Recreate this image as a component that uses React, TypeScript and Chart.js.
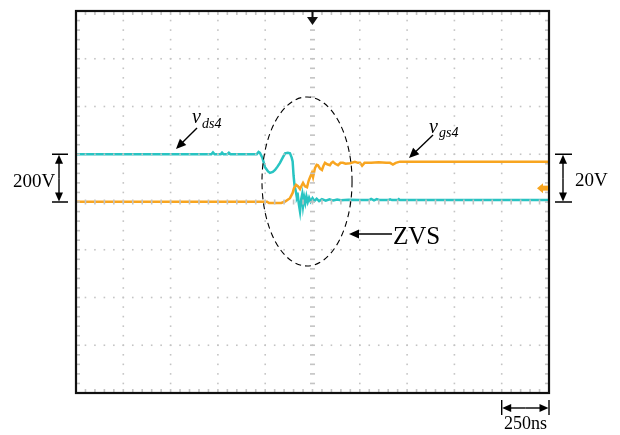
import { useEffect, useRef } from "react";
import { Chart, registerables } from "chart.js";

Chart.register(...registerables);

// time in ns (250 ns/div, 10 div), values in screen divisions (8 div, centre = 0)
const vdsTime = [0, 715, 724, 733, 765, 772, 780, 800, 808, 816, 955, 965, 972, 985, 999, 1015, 1025, 1040, 1052, 1065, 1078, 1094, 1105, 1120, 1131, 1140, 1145, 1150, 1155, 1163, 1168, 1173, 1178, 1184, 1190, 1195, 1200, 1206, 1212, 1218, 1225, 1232, 1240, 1250, 1260, 1272, 1285, 1300, 1320, 1340, 1360, 1380, 1400, 1440, 1500, 1550, 1560, 1575, 1590, 1605, 1650, 1660, 1670, 1700, 1706, 1712, 2500];
const vdsValue = [1.0, 1.0, 1.04, 1.0, 1.0, 1.035, 1.0, 1.0, 1.03, 1.0, 1.0, 1.05, 1.03, 0.93, 0.73, 0.64, 0.61, 0.63, 0.67, 0.74, 0.82, 0.94, 1.02, 1.03, 1.02, 0.93, 0.85, 0.55, 0.35, 0.2, 0.08, 0.12, -0.05, -0.2, 0.05, 0.15, -0.08, 0.1, -0.02, 0.12, 0.0, 0.09, 0.01, 0.08, 0.02, 0.07, 0.02, 0.06, 0.03, 0.055, 0.03, 0.05, 0.035, 0.045, 0.04, 0.04, 0.065, 0.035, 0.06, 0.04, 0.04, 0.055, 0.04, 0.04, 0.06, 0.04, 0.04];

const vgsTime = [0, 1010, 1020, 1085, 1105, 1131, 1145, 1152, 1163, 1173, 1184, 1192, 1200, 1210, 1221, 1230, 1237, 1247, 1253, 1263, 1272, 1279, 1290, 1300, 1308, 1316, 1328, 1342, 1350, 1358, 1370, 1385, 1398, 1411, 1425, 1448, 1474, 1490, 1501, 1512, 1525, 1560, 1600, 1640, 1660, 1675, 1690, 1712, 2500];
const vgsValue = [0.005, 0.005, -0.02, -0.02, 0.01, 0.08, 0.19, 0.29, 0.36, 0.33, 0.27, 0.34, 0.40, 0.33, 0.31, 0.45, 0.52, 0.61, 0.52, 0.71, 0.78, 0.77, 0.70, 0.67, 0.76, 0.82, 0.79, 0.77, 0.82, 0.84, 0.80, 0.77, 0.82, 0.82, 0.80, 0.81, 0.84, 0.82, 0.82, 0.76, 0.82, 0.82, 0.83, 0.82, 0.82, 0.785, 0.82, 0.845, 0.845];

const X_MIN = 0;
const X_MAX = 2500;
const Y_MIN = -4;
const Y_MAX = 4;
const X_DIVS = 10;
const Y_DIVS = 8;
const SUB = 5;

const labelVds = ["v", "ds4"];
const labelVgs = ["v", "gs4"];
const labelZVS = "ZVS";
const labelV200 = "200V";
const labelV20 = "20V";
const labelT = "250ns";

const CYAN = "rgb(40,196,194)";
const ORANGE = "rgb(248,165,32)";
const SERIF = '"Liberation Serif", "DejaVu Serif", serif';

function arrowTo(ctx: CanvasRenderingContext2D, x1: number, y1: number, x2: number, y2: number, head = 9, w = 4) {
  const a = Math.atan2(y2 - y1, x2 - x1);
  const c = Math.cos(a);
  const s = Math.sin(a);
  ctx.beginPath();
  ctx.moveTo(x1, y1);
  ctx.lineTo(x2 - c * head * 0.8, y2 - s * head * 0.8);
  ctx.stroke();
  ctx.beginPath();
  ctx.moveTo(x2, y2);
  ctx.lineTo(x2 - head * c + w * s, y2 - head * s - w * c);
  ctx.lineTo(x2 - head * c - w * s, y2 - head * s + w * c);
  ctx.closePath();
  ctx.fill();
}

const scopePlugin = {
  id: "scope",
  afterDatasetsDraw(chart: any) {
    const { ctx, chartArea: a, scales } = chart;
    const x = scales.x;
    const y = scales.y;
    const xs = (X_MAX - X_MIN) / X_DIVS;
    const ys = (Y_MAX - Y_MIN) / Y_DIVS;
    ctx.save();
    ctx.fillStyle = "rgb(196,196,196)";
    // vertical grid lines
    for (let i = 1; i < X_DIVS; i++) {
      const px = x.getPixelForValue(X_MIN + i * xs);
      const centre = i === X_DIVS / 2;
      for (let j = 1; j < Y_DIVS * SUB; j++) {
        const py = y.getPixelForValue(Y_MIN + (j * ys) / SUB);
        if (centre) ctx.fillRect(px - 2.5, py - 0.8, 5, 1.6);
        else ctx.fillRect(px - 0.8, py - 0.8, 1.6, 1.6);
      }
    }
    // horizontal grid lines
    for (let i = 1; i < Y_DIVS; i++) {
      const py = y.getPixelForValue(Y_MIN + i * ys);
      const centre = i === Y_DIVS / 2;
      for (let j = 1; j < X_DIVS * SUB; j++) {
        const px = x.getPixelForValue(X_MIN + (j * xs) / SUB);
        if (centre) ctx.fillRect(px - 0.8, py - 2.5, 1.6, 5);
        else ctx.fillRect(px - 0.8, py - 0.8, 1.6, 1.6);
      }
    }
    // border ticks
    for (let j = 1; j < X_DIVS * SUB; j++) {
      const px = x.getPixelForValue(X_MIN + (j * xs) / SUB);
      ctx.fillRect(px - 0.8, a.top + 1, 1.6, 3);
      ctx.fillRect(px - 0.8, a.bottom - 4, 1.6, 3);
    }
    for (let j = 1; j < Y_DIVS * SUB; j++) {
      const py = y.getPixelForValue(Y_MIN + (j * ys) / SUB);
      ctx.fillRect(a.left + 1, py - 0.8, 3, 1.6);
      ctx.fillRect(a.right - 4, py - 0.8, 3, 1.6);
    }
    // frame
    ctx.strokeStyle = "#111";
    ctx.lineWidth = 2.2;
    ctx.strokeRect(a.left, a.top, a.right - a.left, a.bottom - a.top);

    // trigger marker
    const tx = x.getPixelForValue((X_MIN + X_MAX) / 2);
    ctx.fillStyle = "#111";
    ctx.fillRect(tx - 1, a.top, 2, 7);
    ctx.beginPath();
    ctx.moveTo(tx - 5.5, a.top + 6);
    ctx.lineTo(tx + 5.5, a.top + 6);
    ctx.lineTo(tx, a.top + 14);
    ctx.closePath();
    ctx.fill();

    // vgs ground marker (right edge)
    const gy = y.getPixelForValue(0.29);
    ctx.fillStyle = ORANGE;
    ctx.beginPath();
    ctx.moveTo(a.right - 12, gy);
    ctx.lineTo(a.right - 6, gy - 5);
    ctx.lineTo(a.right - 6, gy + 5);
    ctx.closePath();
    ctx.fill();
    ctx.fillRect(a.right - 7, gy - 2.5, 6, 5);
    ctx.restore();
  },
  afterDraw(chart: any) {
    const { ctx, chartArea: a, scales } = chart;
    const x = scales.x;
    const y = scales.y;
    ctx.save();
    ctx.strokeStyle = "#000";
    ctx.fillStyle = "#000";

    // dashed ellipse
    const ecx = x.getPixelForValue(1221);
    const ecy = y.getPixelForValue(0.43);
    const erx = x.getPixelForValue(1221 + 238) - ecx;
    const ery = y.getPixelForValue(0.43) - y.getPixelForValue(0.43 + 1.77);
    ctx.setLineDash([6, 4]);
    ctx.lineWidth = 1.1;
    ctx.beginPath();
    ctx.ellipse(ecx, ecy, erx, ery, 0, 0, Math.PI * 2);
    ctx.stroke();
    ctx.setLineDash([]);
    ctx.lineWidth = 1.4;

    // label arrows
    arrowTo(ctx, 197, 128, 176, 149, 10, 4.5);
    arrowTo(ctx, 433, 135, 409, 158, 10, 4.5);
    arrowTo(ctx, 392, 234, 349, 234, 10, 4.5);

    ctx.textBaseline = "alphabetic";
    ctx.textAlign = "left";
    ctx.font = `italic 20px ${SERIF}`;
    ctx.fillText(labelVds[0], 192, 123);
    ctx.font = `italic 14px ${SERIF}`;
    ctx.fillText(labelVds[1], 202, 128);
    ctx.font = `italic 20px ${SERIF}`;
    ctx.fillText(labelVgs[0], 429, 133);
    ctx.font = `italic 14px ${SERIF}`;
    ctx.fillText(labelVgs[1], 439, 137);

    ctx.font = `25px ${SERIF}`;
    ctx.fillText(labelZVS, 393, 244);

    // 200V scale bar (left)
    const y1 = y.getPixelForValue(1);
    const y0 = y.getPixelForValue(0);
    const lx = 59;
    ctx.beginPath();
    ctx.moveTo(52, y1); ctx.lineTo(68, y1);
    ctx.moveTo(52, y0); ctx.lineTo(68, y0);
    ctx.stroke();
    arrowTo(ctx, lx, (y0 + y1) / 2, lx, y1 + 0.5, 9, 4);
    arrowTo(ctx, lx, (y0 + y1) / 2, lx, y0 - 0.5, 9, 4);
    ctx.font = `19px ${SERIF}`;
    ctx.fillText(labelV200, 13, 187);

    // 20V scale bar (right)
    const rx = 563;
    ctx.beginPath();
    ctx.moveTo(555, y1); ctx.lineTo(572, y1);
    ctx.moveTo(555, y0); ctx.lineTo(572, y0);
    ctx.stroke();
    arrowTo(ctx, rx, (y0 + y1) / 2, rx, y1 + 0.5, 9, 4);
    arrowTo(ctx, rx, (y0 + y1) / 2, rx, y0 - 0.5, 9, 4);
    ctx.fillText(labelV20, 575, 186);

    // 250ns scale bar (bottom)
    const xa = x.getPixelForValue(X_MAX - (X_MAX - X_MIN) / X_DIVS);
    const xb = x.getPixelForValue(X_MAX);
    const by = a.bottom + 15;
    ctx.beginPath();
    ctx.moveTo(xa, by - 8); ctx.lineTo(xa, by + 7);
    ctx.moveTo(xb, by - 8); ctx.lineTo(xb, by + 7);
    ctx.stroke();
    arrowTo(ctx, (xa + xb) / 2, by, xa + 0.5, by, 9, 4);
    arrowTo(ctx, (xa + xb) / 2, by, xb - 0.5, by, 9, 4);
    ctx.font = `18px ${SERIF}`;
    ctx.fillText(labelT, 504, 429);
    ctx.restore();
  },
};

export default function App() {
  const ref = useRef<HTMLCanvasElement | null>(null);
  useEffect(() => {
    document.body.style.margin = "0";
    const canvas = ref.current;
    if (!canvas) return;
    const chart = new Chart(canvas, {
      type: "line",
      data: {
        datasets: [
          {
            label: "vgs4",
            data: vgsTime.map((t, i) => ({ x: t, y: vgsValue[i] })),
            borderColor: ORANGE,
            borderWidth: 2.5,
            pointRadius: 0,
            tension: 0,
          },
          {
            label: "vds4",
            data: vdsTime.map((t, i) => ({ x: t, y: vdsValue[i] })),
            borderColor: CYAN,
            borderWidth: 2.5,
            pointRadius: 0,
            tension: 0,
          },
        ],
      },
      options: {
        responsive: false,
        animation: false,
        devicePixelRatio: 1,
        layout: { padding: { left: 76, right: 71, top: 11, bottom: 42 } },
        plugins: { legend: { display: false }, tooltip: { enabled: false } },
        scales: {
          x: { type: "linear", min: X_MIN, max: X_MAX, display: false },
          y: { type: "linear", min: Y_MIN, max: Y_MAX, display: false },
        },
      },
      plugins: [scopePlugin],
    });
    return () => chart.destroy();
  }, []);
  return <canvas ref={ref} width={620} height={435} style={{ display: "block" }} />;
}
